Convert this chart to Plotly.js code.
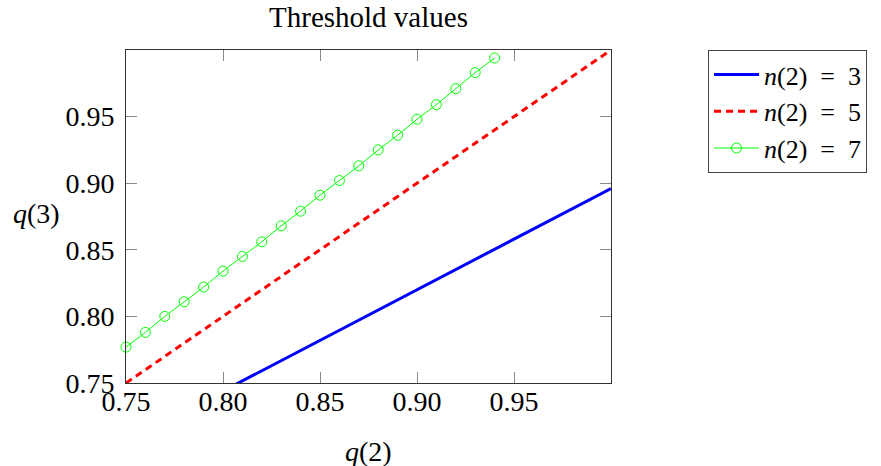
<!DOCTYPE html>
<html>
<head>
<meta charset="utf-8">
<script src="https://cdn.plot.ly/plotly-3.0.1.min.js"></script>
<style>html,body{margin:0;padding:0;background:#fff;}#chart{width:881px;height:466px;}</style>
</head>
<body>
<div id="chart"></div>
<script>
// Data
const seriesNames = ["<i>n</i>(2)\u2002=\u20023", "<i>n</i>(2)\u2002=\u20025", "<i>n</i>(2)\u2002=\u20027"];
const q2_n3 = [0.75, 0.80, 0.85, 0.90, 0.95, 1.00];
const q3_n3 = [0.706, 0.744, 0.782, 0.820, 0.858, 0.896];
const q2_n5 = [0.75, 0.80, 0.85, 0.90, 0.95, 1.00];
const q3_n5 = [0.75, 0.80, 0.85, 0.90, 0.95, 1.00];
const q2_n7 = [0.75, 0.76, 0.77, 0.78, 0.79, 0.80, 0.81, 0.82, 0.83, 0.84,
               0.85, 0.86, 0.87, 0.88, 0.89, 0.90, 0.91, 0.92, 0.93, 0.94];
const q3_n7 = [0.777, 0.788, 0.800, 0.811, 0.822, 0.834, 0.845, 0.856, 0.868, 0.879,
               0.891, 0.902, 0.913, 0.925, 0.936, 0.948, 0.959, 0.971, 0.983, 0.994];
const xTicks = [0.75, 0.80, 0.85, 0.90, 0.95];
const xTickText = ["0.75", "0.80", "0.85", "0.90", "0.95"];
const yTicks = [0.75, 0.80, 0.85, 0.90, 0.95];
const yTickText = ["0.75", "0.80", "0.85", "0.90", "0.95"];
const chartTitle = "Threshold values";
const xTitle = "<i>q</i>(2)";
const yTitle = "<i>q</i>(3)";

const FONT = '"Liberation Serif", "Times New Roman", serif';

const traces = [
  {x: q2_n3, y: q3_n3, name: seriesNames[0], mode: "lines", type: "scatter",
   line: {color: "#0000ff", width: 3}},
  {x: q2_n5, y: q3_n5, name: seriesNames[1], mode: "lines", type: "scatter",
   line: {color: "#ff0000", width: 3, dash: "7px,5px"}},
  {x: q2_n7, y: q3_n7, name: seriesNames[2], mode: "lines+markers", type: "scatter",
   line: {color: "#00ff00", width: 1},
   marker: {symbol: "circle-open", size: 10, color: "#00ff00", line: {width: 1, color: "#00ff00"}},
   cliponaxis: false}
];

const axisCommon = {
  showgrid: false, zeroline: false, showline: true, linecolor: "#333", linewidth: 1,
  mirror: "ticks", ticks: "inside", ticklen: 11, tickwidth: 1, tickcolor: "#888",
  tickfont: {family: FONT, size: 28, color: "#000"}
};

const layout = {
  width: 881, height: 466,
  margin: {l: 126, r: 270, t: 50, b: 83, autoexpand: false},
  paper_bgcolor: "#fff", plot_bgcolor: "#fff",
  font: {family: FONT, size: 28, color: "#000"},
  title: {text: chartTitle, font: {family: FONT, size: 29, color: "#000"},
          x: 0.5, xref: "paper", xanchor: "center", y: 1 - 17/466, yref: "container", yanchor: "middle"},
  xaxis: Object.assign({}, axisCommon, {range: [0.75, 1.0], tickvals: xTicks, ticktext: xTickText, ticklabelstandoff: -7}),
  yaxis: Object.assign({}, axisCommon, {range: [0.75, 1.0], tickvals: yTicks, ticktext: yTickText, ticklabelstandoff: 5}),
  showlegend: true,
  legend: {x: 1.2, xanchor: "left", y: 1.0, yanchor: "top", bgcolor: "#fff",
           bordercolor: "#444", borderwidth: 1, itemwidth: 45,
           font: {family: FONT, size: 26, color: "#000"}, tracegroupgap: 0},
  annotations: [
    {text: xTitle, xref: "paper", yref: "paper", x: 0.5, y: 0, xanchor: "center", yanchor: "middle",
     yshift: -68, showarrow: false, font: {family: FONT, size: 28, color: "#000"}},
    {text: yTitle, xref: "paper", yref: "paper", x: 0, y: 0.508, xanchor: "center", yanchor: "middle",
     xshift: -90, showarrow: false, font: {family: FONT, size: 28, color: "#000"}}
  ]
};

Plotly.newPlot("chart", traces, layout, {displayModeBar: false, staticPlot: true});
</script>
</body>
</html>
